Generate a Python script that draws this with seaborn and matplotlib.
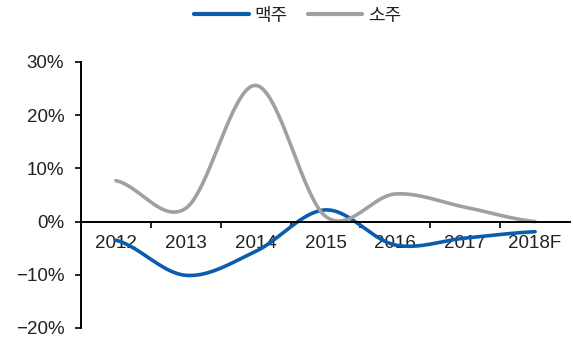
import numpy as np
import pandas as pd
import matplotlib
matplotlib.use("Agg")
import matplotlib.pyplot as plt
import seaborn as sns

categories = ["2012", "2013", "2014", "2015", "2016", "2017", "2018F"]
beer = [-3.5, -10.1, -5.6, 2.2, -4.4, -3.1, -1.9]
soju = [7.7, 2.5, 25.6, 1.0, 5.2, 2.7, 0.0]
series_names = ["맥주", "소주"]
colors = ["#0a5cad", "#a0a0a0"]
yticks = [-20, -10, 0, 10, 20, 30]


def smooth(values, n=40):
    """Excel-style smoothed line (Catmull-Rom / cubic Hermite) through the points."""
    v = np.asarray(values, float)
    k = len(v)
    xs, ys = [], []
    for i in range(k - 1):
        p0 = v[i - 1] if i > 0 else v[i]
        p3 = v[i + 2] if i + 2 < k else v[i + 1]
        m1 = (v[i + 1] - p0) / 2
        m2 = (p3 - v[i]) / 2
        t = np.linspace(0, 1, n, endpoint=(i == k - 2))
        h00 = 2 * t**3 - 3 * t**2 + 1
        h10 = t**3 - 2 * t**2 + t
        h01 = -2 * t**3 + 3 * t**2
        h11 = t**3 - t**2
        xs.append(i + t)
        ys.append(h00 * v[i] + h10 * m1 + h01 * v[i + 1] + h11 * m2)
    return np.concatenate(xs), np.concatenate(ys)


frames = []
for name, vals in zip(series_names, [beer, soju]):
    x, y = smooth(vals)
    frames.append(pd.DataFrame({"x": x, "y": y, "series": name}))
df = pd.concat(frames, ignore_index=True)

sns.set_style("white")
plt.rcParams["font.family"] = ["Liberation Sans", "Noto Sans CJK KR", "DejaVu Sans"]

fig = plt.figure(figsize=(5.73, 3.41), dpi=100)
ax = fig.add_axes([81 / 573, 1 - 328 / 341, (570 - 81) / 573, (328 - 62) / 341])

sns.lineplot(data=df, x="x", y="y", hue="series", palette=colors,
             hue_order=series_names, linewidth=2.6, ax=ax, sort=False,
             estimator=None, legend=True)

ax.set_xlim(-0.5, len(categories) - 0.5)
ax.set_ylim(-20, 30)
ax.set_xlabel("")
ax.set_ylabel("")

ax.set_yticks(yticks)
ax.set_yticklabels([f"{t}%".replace("-", "\u2212") for t in yticks])

ax.set_xticks(range(len(categories)))
ax.set_xticklabels(categories)
ax.set_xticks([i + 0.5 for i in range(len(categories) - 1)], minor=True)
ax.tick_params(axis="x", which="major", bottom=True, length=0, pad=10,
               labelsize=13.5, labelcolor="#222222")
ax.tick_params(axis="x", which="minor", bottom=True, length=4, width=1.2,
               direction="out", color="black")
ax.tick_params(axis="y", which="major", left=True, length=4, width=1.2,
               direction="out", color="black", pad=8, labelsize=13.5,
               labelcolor="#222222")

for s in ["top", "right"]:
    ax.spines[s].set_visible(False)
ax.spines["bottom"].set_position(("data", 0))
ax.spines["left"].set_bounds(-20, 30)
for s in ["bottom", "left"]:
    ax.spines[s].set_color("black")
    ax.spines[s].set_linewidth(1.4)

ax.grid(False)

handles, labels = ax.get_legend_handles_labels()
ax.legend(handles, labels, loc="upper center", bbox_to_anchor=(298 / 573, 1 - 5 / 341),
          bbox_transform=fig.transFigure, ncol=2, frameon=False,
          prop={"family": ["Noto Sans CJK KR", "DejaVu Sans"], "size": 13},
          labelcolor="#222222",
          handlelength=3.0, handletextpad=0.35, columnspacing=1.1,
          borderaxespad=0.0, borderpad=0.1)
for line in ax.get_legend().get_lines():
    line.set_linewidth(3)

fig.savefig("out.png", dpi=100)
